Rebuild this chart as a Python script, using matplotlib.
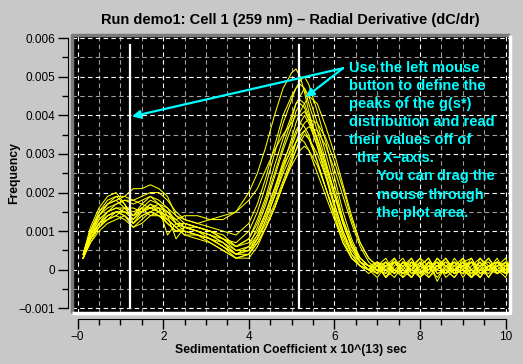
import numpy as np
import matplotlib
matplotlib.use('Agg')
import matplotlib.pyplot as plt
from matplotlib.ticker import MultipleLocator, FixedLocator, FixedFormatter

# sedimentation coefficient grid (x 10^13 sec)
s_vals = [0.13, 0.3, 0.5, 0.7, 0.9, 1.1, 1.3, 1.5, 1.7, 1.9,
          2.1, 2.3, 2.5, 2.8, 3.1, 3.4, 3.7, 4.0, 4.2, 4.4, 4.6, 4.8,
          5.0, 5.1, 5.2, 5.3, 5.4, 5.6, 5.8,
          6.0, 6.2, 6.4, 6.6, 6.8,
          7.0, 7.2, 7.4, 7.6, 7.8, 8.0, 8.2, 8.4, 8.6, 8.8, 9.0, 9.2, 9.4, 9.6, 9.8, 10.0, 10.1]

# dC/dr scans, in units of 1e-4
scan01 = [3, 9, 14, 17, 18, 19, 21, 21, 22, 21,
          19, 14, 13, 12, 13, 14, 15, 20, 25, 32, 40, 47,
          51, 52, 50, 46, 41, 33, 26,
          19, 12, 6, 3, 1,
          2, -1, 3, 0, -2, 1, 3, -1, 0, 2, -2, 1, 3, 0, -1, 2, 1]
scan02 = [3, 10, 15, 18, 19, 17, 14, 17, 19, 18,
          16, 12, 11, 10, 9, 8, 7, 10, 15, 22, 30, 38,
          44, 47, 49, 50, 48, 41, 33,
          24, 15, 8, 3, 1,
          -1, 2, 0, -2, 2, 1, -1, 3, 0, -2, 1, 2, -1, 0, 3, -1, 1]
scan03 = [4, 11, 16, 19, 20, 17, 12, 15, 16, 17,
          14, 8, 11, 11, 10, 8, 6, 8, 12, 18, 25, 32,
          39, 43, 45, 47, 45, 38, 30,
          22, 13, 7, 2, 0,
          2, -2, 1, 3, -1, 0, 2, -3, 1, 2, 0, -2, 3, 1, -1, 1, 2]
scan04 = [3, 8, 12, 15, 17, 18, 17, 18, 19, 17,
          16, 14, 12, 11, 10, 8, 5, 6, 9, 14, 20, 27,
          34, 38, 41, 43, 45, 43, 37,
          30, 22, 14, 7, 3,
          1, 3, -1, 1, 2, -2, 0, 2, 1, -1, 3, 0, -2, 1, 2, 0, 1]
scan05 = [3, 9, 13, 15, 16, 15, 13, 15, 17, 15,
          12, 10, 11, 10, 9, 7, 4, 6, 11, 17, 24, 31,
          37, 41, 43, 42, 39, 32, 24,
          16, 9, 4, 2, 1,
          -1, 1, 3, -2, 0, 2, -1, 1, 3, 0, -1, 2, -2, 1, 0, 2, -1]
scan06 = [4, 10, 14, 16, 17, 18, 18, 17, 16, 15,
          14, 13, 14, 14, 13, 13, 15, 18, 21, 26, 31, 35,
          38, 40, 40, 41, 39, 34, 27,
          20, 13, 7, 3, 1,
          0, 2, -1, 2, 1, -2, 1, 0, 3, -1, 0, 2, 1, -2, 2, 0, 1]
scan07 = [3, 8, 11, 14, 15, 14, 11, 13, 15, 14,
          12, 10, 10, 9, 8, 6, 3, 4, 8, 13, 19, 26,
          32, 35, 38, 40, 38, 32, 25,
          17, 10, 4, 1, 0,
          2, 0, -2, 1, 3, -1, 2, 0, -1, 2, 1, -2, 0, 3, -1, 1, 0]
scan08 = [3, 9, 13, 15, 16, 16, 15, 16, 14, 15,
          13, 11, 9, 9, 8, 6, 4, 5, 9, 15, 21, 28,
          33, 36, 38, 37, 35, 28, 21,
          14, 7, 3, 1, 0,
          -2, 1, 2, -1, 0, 3, 1, -2, 1, 0, 2, -1, 1, 3, 0, -2, 1]
scan09 = [3, 7, 11, 13, 15, 15, 14, 16, 16, 15,
          14, 12, 10, 9, 7, 5, 3, 4, 7, 11, 16, 22,
          28, 31, 34, 36, 37, 36, 32,
          26, 19, 12, 6, 2,
          0, -1, 2, 1, -2, 2, 0, 1, -1, 3, 0, -2, 1, 2, -1, 0, 2]
scan10 = [3, 8, 12, 14, 15, 14, 12, 14, 15, 16,
          9, 12, 11, 10, 8, 7, 4, 5, 8, 13, 19, 25,
          30, 33, 35, 36, 34, 28, 21,
          14, 8, 3, 1, 0,
          1, -2, 0, 2, -1, 1, 3, -1, 0, -2, 1, 2, 0, -1, 2, 1, 0]
scan11 = [3, 9, 12, 13, 14, 16, 16, 15, 17, 16,
          13, 11, 12, 11, 10, 8, 6, 7, 10, 15, 21, 27,
          31, 33, 34, 33, 31, 25, 19,
          13, 7, 3, 1, -1,
          1, 2, 0, -1, 2, 0, -2, 1, 2, -1, 0, 3, -1, 1, 0, -1, 1]
scan12 = [3, 7, 10, 12, 13, 14, 12, 14, 15, 14,
          13, 11, 9, 8, 7, 5, 3, 3, 6, 11, 16, 22,
          27, 29, 31, 32, 31, 27, 21,
          15, 9, 4, 1, 0,
          0, 1, -1, 2, 0, -1, 1, 2, -2, 0, 1, -1, 2, 0, 1, -1, 0]
scan13 = [4, 10, 14, 17, 18, 16, 13, 16, 18, 17,
          15, 12, 12, 11, 10, 9, 6, 8, 13, 19, 27, 34,
          40, 43, 44, 43, 40, 34, 27,
          20, 12, 6, 2, 1,
          1, -2, 2, 0, 3, -1, 0, 2, -1, 1, 3, -2, 0, 1, 2, -1, 2]
scan14 = [3, 8, 12, 14, 15, 15, 14, 15, 16, 16,
          15, 13, 11, 10, 9, 7, 5, 5, 8, 12, 17, 23,
          29, 33, 36, 38, 39, 38, 34,
          28, 21, 13, 7, 3,
          1, 0, 2, -1, 1, 3, -2, 0, 2, 1, -1, 0, 2, -2, 1, 3, 0]
scan15 = [3, 8, 11, 13, 14, 13, 11, 12, 14, 14,
          12, 10, 10, 9, 8, 6, 4, 4, 7, 11, 16, 22,
          28, 31, 33, 35, 34, 30, 24,
          17, 10, 5, 2, 0,
          -1, 1, 2, 0, -2, 1, 0, 3, 1, -1, 2, 0, -2, 1, 2, 0, -1]
scan16 = [4, 10, 15, 17, 19, 19, 18, 19, 20, 20,
          18, 15, 13, 12, 11, 10, 9, 12, 17, 24, 32, 40,
          45, 47, 48, 47, 43, 36, 28,
          20, 12, 6, 2, 0,
          2, 1, -1, 2, 0, -2, 2, 1, -1, 0, 2, 3, -1, 0, 1, 2, 0]

scans = [scan01, scan02, scan03, scan04, scan05, scan06, scan07, scan08,
         scan09, scan10, scan11, scan12, scan13, scan14, scan15, scan16]

# picked peak positions
peak_marks = [1.225, 5.17]

xtick_pos = [0, 2, 4, 6, 8, 10]
xtick_lab = ['\u22120', '2', '4', '6', '8', '10']
ytick_pos = [-0.001, 0, 0.001, 0.002, 0.003, 0.004, 0.005, 0.006]
ytick_lab = ['\u22120.001', '0', '0.001', '0.002', '0.003', '0.004', '0.005', '0.006']

help_lines = ['Use the left mouse', 'button to define the', 'peaks of the g(s*)',
              'distribution and read', 'their values off of', 'the X\u2212axis.',
              'You can drag the', 'mouse through', 'the plot area.']

W, H = 523, 364
bg = '#c8c8c8'
sans = ['Liberation Sans', 'DejaVu Sans']
fig = plt.figure(figsize=(W / 100, H / 100), dpi=100, facecolor=bg)
ax = fig.add_axes([72 / W, 1 - 313 / H, 438 / W, 278 / H])
ax.set_facecolor('black')

s = np.array(s_vals)
for sc in scans:
    ax.plot(s, np.array(sc) * 1e-4, color='#ffff00', lw=0.75, zorder=3)

for xp in peak_marks:
    ax.plot([xp, xp], [0.00582, -0.00099], color='white', lw=1.6, zorder=4)

ax.set_xlim(-0.13, 10.1)
ax.set_ylim(-0.00112, 0.00608)

ax.xaxis.set_major_locator(FixedLocator(xtick_pos))
ax.xaxis.set_major_formatter(FixedFormatter(xtick_lab))
ax.xaxis.set_minor_locator(MultipleLocator(0.5))
ax.yaxis.set_major_locator(FixedLocator(ytick_pos))
ax.yaxis.set_major_formatter(FixedFormatter(ytick_lab))
ax.yaxis.set_minor_locator(MultipleLocator(0.0005))

ax.grid(True, which='major', color='white', lw=0.8, linestyle=(0, (4, 3)), zorder=1)
ax.grid(True, which='minor', color='#a0a0a0', lw=0.8, linestyle=(0, (4, 3)), zorder=1)
ax.set_axisbelow(True)

for side in ['top', 'right']:
    ax.spines[side].set_visible(False)
ax.spines['left'].set_position(('outward', 3))
ax.spines['bottom'].set_position(('outward', 4))
ax.spines['left'].set_bounds(-0.001, 0.006)
ax.spines['bottom'].set_bounds(0, 10)
ax.tick_params(which='major', length=7, width=1, labelsize=8.5, color='black')
ax.tick_params(which='minor', length=4, width=1, color='black')
ax.tick_params(axis='x', which='major', pad=2)
ax.tick_params(axis='y', which='major', pad=2)
for lab in ax.get_xticklabels() + ax.get_yticklabels():
    lab.set_family(sans)

# bevelled frame round the plot area
ax.plot([0, 0, 1], [0, 1, 1], transform=ax.transAxes, color='#7a7a7a', lw=2.5,
        clip_on=False, zorder=6, solid_capstyle='butt')
ax.plot([0, 1, 1], [0, 0, 1], transform=ax.transAxes, color='white', lw=2.5,
        clip_on=False, zorder=6, solid_capstyle='butt')

cyan = '#00ffff'
for tip in [(1.27, 0.00397), (5.33, 0.00447)]:
    ax.annotate('', xy=tip, xytext=(6.2, 0.00522),
                arrowprops=dict(arrowstyle='-|>', color=cyan, lw=1.6, mutation_scale=12,
                                shrinkA=0, shrinkB=0), zorder=5)

line_x = [349, 349, 349, 349, 349, 357, 377, 377, 377]
line_y = [68, 86, 104, 122, 140, 158, 176, 195, 213]
for txt, px, py in zip(help_lines, line_x, line_y):
    fig.text(px / W, 1 - py / H, txt, color=cyan, fontsize=10.5, fontweight='bold',
             family=sans, va='center', ha='left', zorder=7)

fig.text(290 / W, 1 - 20 / H,
         'Run demo1: Cell 1 (259 nm) \u2013 Radial Derivative (dC/dr)',
         ha='center', va='center', fontsize=10.5, fontweight='bold', family=sans)
fig.text(291 / W, 1 - 350 / H, 'Sedimentation Coefficient x 10^(13) sec',
         ha='center', va='center', fontsize=8.8, fontweight='bold', family=sans)
fig.text(14 / W, 1 - 173 / H, 'Frequency', rotation=90,
         ha='center', va='center', fontsize=8.8, fontweight='bold', family=sans)

fig.savefig('out.png', dpi=100, facecolor=bg)
